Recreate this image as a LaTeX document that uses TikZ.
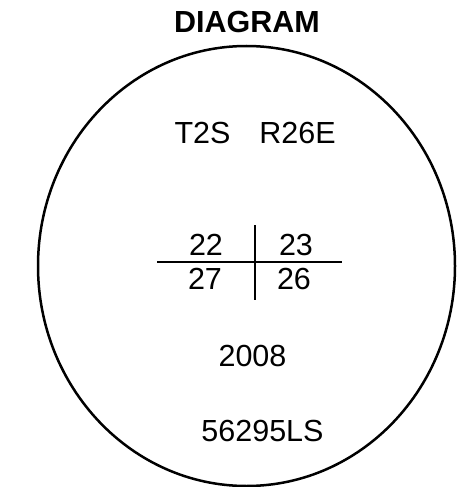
\documentclass[tikz,border=0pt]{standalone}
\usepackage{fontspec}
\setmainfont{Liberation Sans}
\usetikzlibrary{positioning}

\tikzset{
  lbl/.style={inner sep=0pt, font=\fontsize{30.5}{36}\selectfont},
  ttl/.style={inner sep=0pt, font=\fontsize{30.5}{36}\selectfont\bfseries}
}

\begin{document}
\begin{tikzpicture}[x=1pt,y=-1pt]
      \useasboundingbox (0,0) rectangle (457,487);
      \node[ttl] (title) at (247,22) {DIAGRAM};
      \draw[line width=2.5pt] (246.5,266) ellipse [x radius=208.5pt, y radius=220pt];
      \node[lbl] (tooth) at (202.5,132.5) {T2S};
      \node[lbl] (range) at (297.5,132.5) {R26E};
      % section corners
      \coordinate (hl) at (157,262);
      \coordinate (hr) at (342,262);
      \coordinate (vt) at (255,225);
      \coordinate (vb) at (255,300);
      \draw[line width=2.5pt] (hl) -- (hr);
      \draw[line width=2.5pt] (vt) -- (vb);
      \node[lbl] (nw) at (206,245) {22};
      \node[lbl] (ne) at (296,245) {23};
      \node[lbl] (sw) at (205,278.5) {27};
      \node[lbl] (se) at (294,278.5) {26};
      \node[lbl] (year) at (252.5,356) {2008};
      \node[lbl] (code) at (262.5,431) {56295LS};
\end{tikzpicture}
\end{document}
